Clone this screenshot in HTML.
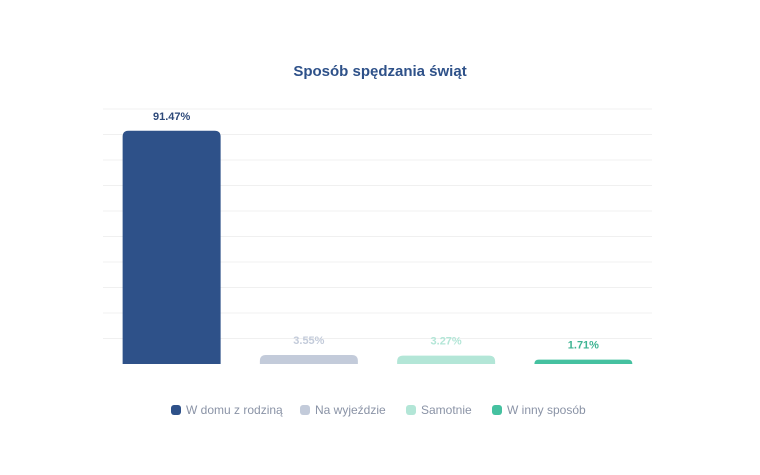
<!DOCTYPE html>
<html><head><meta charset="utf-8"><style>
body{margin:0;background:#fff;width:760px;height:470px;overflow:hidden;font-family:"Liberation Sans",sans-serif}
</style></head><body>
<svg id="c" width="760" height="470">
<text x="380" y="76" text-anchor="middle" font-size="15" font-weight="bold" fill="#2e5189">Sposób spędzania świąt</text>
<g id="grid"></g>
<g id="bars"></g>
<g id="legend"></g>
</svg>
<script>
const categories=["W domu z rodziną","Na wyjeździe","Samotnie","W inny sposób"];
const values=[91.47,3.55,3.27,1.71];
const labels=["91.47%","3.55%","3.27%","1.71%"];
const colors=["#2e5189","#c3cbda","#b3e6d7","#45c1a0"];
const labelColors=["#2e4a7a","#c3cbda","#b3e6d7","#3fb493"];
const ticks=[0,10,20,30,40,50,60,70,80,90,100];
const ns="http://www.w3.org/2000/svg";
const x0=103,x1=652,y0=364,y1=109;
const y=v=>y0-(v/100)*(y0-y1);
const bw=(x1-x0)/categories.length;
function mk(t,a,p){const e=document.createElementNS(ns,t);for(const k in a)e.setAttribute(k,a[k]);p.appendChild(e);return e;}
const g=document.getElementById('grid');
ticks.slice(1).forEach(t=>{const l=mk('line',{x1:x0,x2:x1,y1:y(t),y2:y(t),stroke:'#f0f0f0','stroke-width':1},g);

});
const b=document.getElementById('bars');
values.forEach((v,i)=>{const cx=x0+bw*(i+0.5),w=98,top=y(v),h=y0-top,r=Math.min(6,h);
const p=mk('path',{d:`M${cx-w/2},${y0}V${top+r}Q${cx-w/2},${top} ${cx-w/2+r},${top}H${cx+w/2-r}Q${cx+w/2},${top} ${cx+w/2},${top+r}V${y0}Z`,fill:colors[i]},b);


const t=mk('text',{x:cx,y:top-11,'text-anchor':'middle','font-size':11,'font-weight':'bold',fill:labelColors[i]},b);
t.textContent=labels[i];

});
const lg=document.getElementById('legend');
const lx=[171,300,406,492];
categories.forEach((c,i)=>{const e=mk('g',{},lg);


mk('rect',{x:lx[i],y:405,width:10,height:10,rx:3,fill:colors[i]},e);
const t=mk('text',{x:lx[i]+15,y:414,'font-size':12,fill:'#8a93a6'},e);t.textContent=c;});
</script>
</body></html>
